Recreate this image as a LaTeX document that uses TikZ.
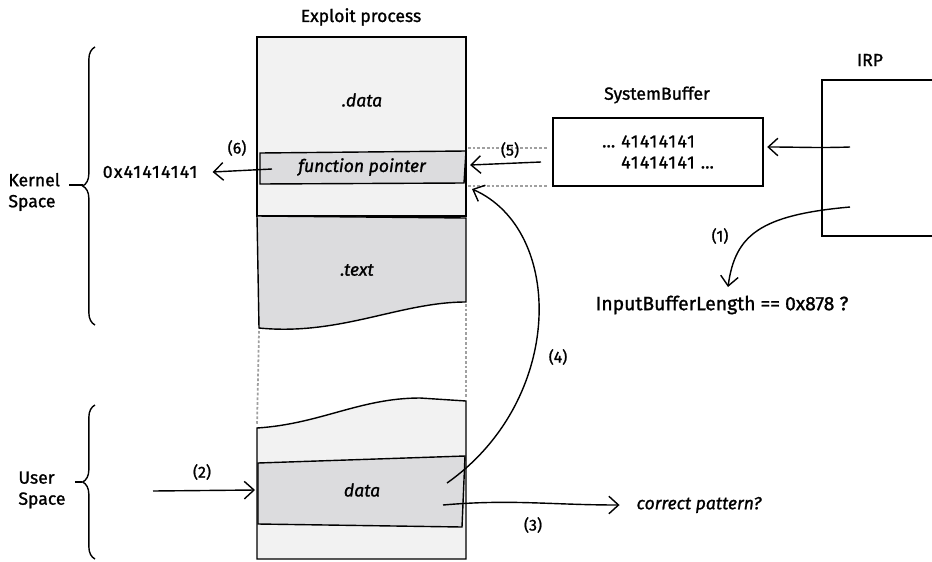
\documentclass[tikz,border=0pt]{standalone}
\usepackage{fontspec}
\setmainfont{Fira Sans}[FakeBold=1.2]
\newfontfamily\widefont{Fira Sans}[LetterSpace=8, FakeBold=1.2]
\usetikzlibrary{arrows.meta, decorations.pathreplacing, calc}

\definecolor{lightfill}{HTML}{F2F2F2}
\definecolor{darkfill}{HTML}{DCDCDE}
\definecolor{guidegray}{HTML}{A0A0A0}

\begin{document}
\begin{tikzpicture}[x=0.02cm, y=-0.02cm, line width=0.8pt,
    arr/.style={-{Straight Barb[length=5.5pt,width=10pt]}},
    steplbl/.style={font=\small},
    guide/.style={guidegray, line width=1pt, dash pattern=on 1.5pt off 1.2pt},
    space/.style={align=left, inner sep=1pt}]
    \useasboundingbox (0,0) rectangle (932,561);

    % Define the points of the process column
    \coordinate (ktop) at (95,47);
    \coordinate (kbot) at (95,325);
    \coordinate (ktip) at (83,185);
    \coordinate (utop) at (95,405);
    \coordinate (ubot) at (95,559);
    \coordinate (utip) at (82,482);

    % Kernel part of the process
    \filldraw[fill=lightfill] (257,37) rectangle (466,216);
    \filldraw[fill=darkfill] (260,153) -- (466,151) -- (464,183) -- (260,184) -- cycle;
    \filldraw[fill=darkfill] (257,216) -- (466,218) -- (466,302)
        .. controls (400,302) and (340,336) .. (259,328) -- cycle;

    % Gap between kernel and user part
    \draw[guide] (259,331) -- (257,425);
    \draw[guide] (466,304) -- (466,397);

    % User part of the process
    \filldraw[fill=lightfill] (257,428) .. controls (320,424) and (360,398) .. (420,398)
        -- (466,401) -- (466,559) -- (257,559) -- cycle;
    \filldraw[fill=darkfill] (258,463) -- (465,456) -- (462,527) -- (258,524) -- cycle;

    % Labels inside the process
    \node (title) at (361,17) {Exploit process};
    \node (dsec) at (362,100) {\itshape .data};
    \node (fptr) at (362,167) {\itshape function pointer};
    \node (tsec) at (357,270) {\itshape .text};
    \node (udata) at (362,490) {\itshape data};

    % SystemBuffer and IRP
    \draw[guide] (468,148) -- (548,148);
    \draw[guide] (468,186) -- (548,186);
    \node (sbuf) at (658,152) [draw, minimum width=4.2cm, minimum height=1.36cm,
        align=left, font=\widefont] {\ldots\ 41414141\\\phantom{\ldots}\ 41414141 \ldots};
    \node (sbuflbl) at (657,95) {SystemBuffer};
    \draw (940,80) -- (822,80) -- (822,236) -- (940,236);
    \node (irp) at (870,60) {IRP};
    \coordinate (irpA) at (850,147);
    \coordinate (irpB) at (850,207);

    % Braces on the left
    \draw[decorate, decoration={brace, amplitude=7pt}] (kbot) -- (ktop);
    \draw[decorate, decoration={brace, amplitude=7pt}] (ubot) -- (utop);
    \node (kernel) at (6,192) [space, anchor=west] {Kernel\\Space};
    \node (user) at (16,490) [space, anchor=west] {User\\Space};
    \draw ($(kernel.east |- ktip)+(4pt,0)$) -- (ktip);
    \draw ($(user.east |- utip)+(4pt,0)$) -- (utip);

    % Texts
    \node (addr) at (150,172) [font=\widefont] {0x41414141};
    \node (lencheck) at (722,305) [font=\fontsize{11}{13}\selectfont] {InputBufferLength == 0x878 ?};
    \node (pattern) at (699,505) {\itshape correct pattern?};

    % Steps
    \coordinate (s1end) at (728,287);
    \coordinate (s2start) at (153,491);
    \coordinate (s3start) at (443,505);
    \coordinate (s4start) at (447,483);
    \coordinate (s4end) at (472,189);
    \coordinate (s5start) at (541,162);
    \coordinate (s5end) at (470,165);
    \coordinate (s6start) at (272,169);

    \draw[arr] (irpA) to[out=182, in=0] ([xshift=2pt]sbuf.east |- irpA);
    \draw[arr] (irpB) .. controls (760,215) and (735,235) .. (s1end);
    \draw[arr] (s2start) -- (udata.west -| 255,491);
    \draw[arr] (s3start) to[out=5, in=180] ([xshift=-6pt]pattern.west);
    \draw[arr] (s4start) .. controls (565,400) and (565,230) .. (s4end);
    \draw[arr] (s5start) -- (s5end);
    \draw[arr] (s6start) -- ([xshift=5pt]addr.east);

    \node (n1) at (720,236) [steplbl] {(1)};
    \node (n2) at (202,472) [steplbl] {(2)};
    \node (n3) at (533,525) [steplbl] {(3)};
    \node (n4) at (558,357) [steplbl] {(4)};
    \node (n5) at (510,150) [steplbl] {(5)};
    \node (n6) at (237,148) [steplbl] {(6)};
\end{tikzpicture}
\end{document}
